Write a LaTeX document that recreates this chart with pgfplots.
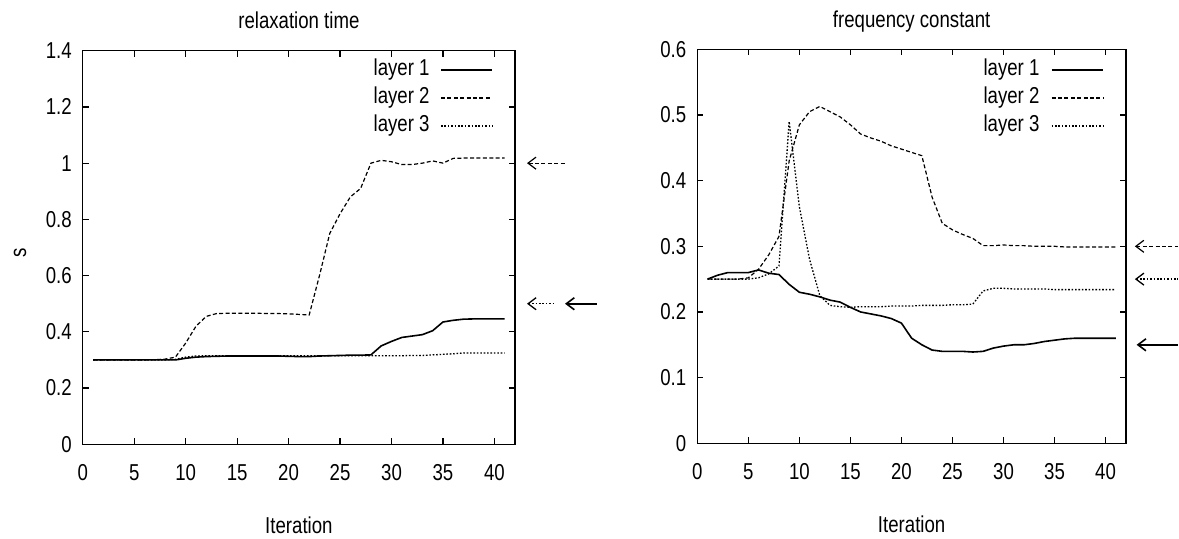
\documentclass[border=0pt]{standalone}
\usepackage{fontspec}
\setmainfont{Liberation Sans}[FakeStretch=0.81]
\usepackage{pgfplots}
\pgfplotsset{compat=1.18}
\usetikzlibrary{arrows.meta}
\tikzset{lt/.style={anchor=east, inner sep=0pt, font=\fontsize{11.5}{13}\selectfont}}
\begin{document}
\begin{tikzpicture}
\path[use as bounding box] (0,0) rectangle (589.5pt,269.5pt);
\pgfplotsset{
 gp/.style={
  scale only axis, anchor=south west,
  xmin=0, xmax=42, ymin=0,
  xtick={0,5,...,40},
  tick align=inside, major tick length=3pt,
  axis line style={line width=0.7pt},
  every tick/.style={line width=0.6pt, black},
  clip=false,
  font=\fontsize{11.5}{13}\selectfont,
  /pgf/number format/assume math mode=true,
  xticklabel style={yshift=-6.5pt},
  yticklabel style={xshift=-2pt},
  title style={at={(0.5,1)}, anchor=base, yshift=5pt},
  xlabel style={at={(axis description cs:0.5,0)}, anchor=base, yshift=-44.5pt},
 },
 l1/.style={black, line width=0.8pt},
 l2/.style={black, line width=0.6pt, dash pattern=on 2pt off 1.2pt},
 l3/.style={black, line width=0.65pt, dash pattern=on 0.8pt off 0.9pt},
 arr/.style={arrows={Straight Barb[length=4pt,width=6pt]-}},
}
% ---------------- left ----------------
\begin{axis}[gp, at={(41.4pt,47.35pt)}, width=216.1pt, height=196.8pt,
  ymax=1.4, ytick={0,0.2,0.4,0.6,0.8,1,1.2,1.4},
  yticklabels={0,0.2,0.4,0.6,0.8,1,1.2,1.4},
  title={relaxation time}, xlabel={Iteration}, ylabel={s},
  ylabel style={at={([xshift=-31.4pt]axis description cs:0,0.486)}, anchor=center}]
\addplot[l1] coordinates {(1,0.30)(2,0.30)(3,0.30)(4,0.30)(5,0.30)(6,0.30)(7,0.30)(8,0.30)(9,0.30)(10,0.306)(11,0.31)(12,0.312)(13,0.313)(14,0.314)(15,0.314)(16,0.314)(17,0.314)(18,0.314)(19,0.314)(20,0.313)(21,0.312)(22,0.312)(23,0.314)(24,0.315)(25,0.316)(26,0.317)(27,0.317)(28,0.318)(29,0.35)(30,0.366)(31,0.38)(32,0.385)(33,0.39)(34,0.404)(35,0.435)(36,0.441)(37,0.445)(38,0.446)(39,0.446)(40,0.446)(41,0.446)};
\addplot[l2] coordinates {(1,0.30)(2,0.30)(3,0.30)(4,0.30)(5,0.30)(6,0.30)(7,0.301)(8,0.303)(9,0.31)(10,0.36)(11,0.42)(12,0.455)(13,0.465)(14,0.466)(15,0.466)(16,0.466)(17,0.466)(18,0.465)(19,0.465)(20,0.464)(21,0.462)(22,0.46)(23,0.6)(24,0.75)(25,0.82)(26,0.88)(27,0.91)(28,1.0)(29,1.01)(30,1.005)(31,0.995)(32,0.995)(33,1.0)(34,1.008)(35,1.0)(36,1.017)(37,1.018)(38,1.018)(39,1.018)(40,1.018)(41,1.018)};
\addplot[l3] coordinates {(1,0.30)(2,0.30)(3,0.30)(4,0.30)(5,0.30)(6,0.30)(7,0.30)(8,0.30)(9,0.302)(10,0.31)(11,0.314)(12,0.315)(13,0.315)(14,0.315)(15,0.315)(16,0.315)(17,0.315)(18,0.315)(19,0.315)(20,0.315)(21,0.315)(22,0.315)(23,0.315)(24,0.315)(25,0.315)(26,0.315)(27,0.315)(28,0.315)(29,0.315)(30,0.315)(31,0.315)(32,0.316)(33,0.316)(34,0.318)(35,0.32)(36,0.322)(37,0.325)(38,0.325)(39,0.325)(40,0.325)(41,0.325)};
% legend (gnuplot style: text right-aligned, sample to the right)
\addplot[l1] coordinates {(34.81,1.3316)(39.77,1.3316)};
\addplot[l2] coordinates {(34.81,1.232)(39.77,1.232)};
\addplot[l3] coordinates {(34.81,1.1324)(39.77,1.1324)};
\node[lt] at (axis cs:33.74,1.3316) {layer 1};
\node[lt] at (axis cs:33.74,1.232) {layer 2};
\node[lt] at (axis cs:33.74,1.1324) {layer 3};
% target arrows
\addplot[l2, arr] coordinates {(43.17,1.0)(47.05,1.0)};
\addplot[l3, arr] coordinates {(43.17,0.5)(45.9,0.5)};
\addplot[l1, arr] coordinates {(46.86,0.5)(49.97,0.5)};
\end{axis}
% ---------------- right ----------------
\begin{axis}[gp, at={(348.65pt,47.85pt)}, width=214.35pt, height=197pt,
  ymax=0.6, ytick={0,0.1,0.2,0.3,0.4,0.5,0.6},
  yticklabels={0,0.1,0.2,0.3,0.4,0.5,0.6},
  title={frequency constant}, xlabel={Iteration}]
\addplot[l1] coordinates {(1,0.25)(2,0.256)(3,0.26)(4,0.26)(5,0.26)(6,0.264)(7,0.259)(8,0.257)(9,0.242)(10,0.23)(11,0.227)(12,0.223)(13,0.218)(14,0.215)(15,0.207)(16,0.2)(17,0.197)(18,0.194)(19,0.19)(20,0.183)(21,0.16)(22,0.15)(23,0.142)(24,0.14)(25,0.14)(26,0.14)(27,0.139)(28,0.14)(29,0.145)(30,0.148)(31,0.15)(32,0.15)(33,0.152)(34,0.155)(35,0.157)(36,0.159)(37,0.16)(38,0.16)(39,0.16)(40,0.16)(41,0.16)};
\addplot[l2] coordinates {(1,0.25)(2,0.25)(3,0.25)(4,0.25)(5,0.252)(6,0.265)(7,0.287)(8,0.315)(9,0.43)(10,0.485)(11,0.505)(12,0.513)(13,0.505)(14,0.497)(15,0.485)(16,0.471)(17,0.465)(18,0.46)(19,0.453)(20,0.448)(21,0.443)(22,0.438)(23,0.375)(24,0.335)(25,0.325)(26,0.318)(27,0.312)(28,0.301)(29,0.301)(30,0.302)(31,0.301)(32,0.301)(33,0.3)(34,0.3)(35,0.3)(36,0.299)(37,0.299)(38,0.299)(39,0.299)(40,0.299)(41,0.299)};
\addplot[l3] coordinates {(1,0.25)(2,0.25)(3,0.25)(4,0.25)(5,0.25)(6,0.252)(7,0.258)(8,0.27)(9,0.49)(10,0.36)(11,0.28)(12,0.225)(13,0.21)(14,0.208)(15,0.207)(16,0.208)(17,0.208)(18,0.208)(19,0.209)(20,0.209)(21,0.209)(22,0.21)(23,0.21)(24,0.21)(25,0.211)(26,0.211)(27,0.212)(28,0.232)(29,0.236)(30,0.236)(31,0.235)(32,0.235)(33,0.235)(34,0.235)(35,0.234)(36,0.234)(37,0.234)(38,0.234)(39,0.234)(40,0.234)(41,0.234)};
% legend
\addplot[l1] coordinates {(34.71,0.5684)(39.76,0.5684)};
\addplot[l2] coordinates {(34.71,0.5258)(39.76,0.5258)};
\addplot[l3] coordinates {(34.71,0.4832)(39.76,0.4832)};
\node[lt] at (axis cs:33.56,0.5684) {layer 1};
\node[lt] at (axis cs:33.56,0.5258) {layer 2};
\node[lt] at (axis cs:33.56,0.4832) {layer 3};
% target arrows
\addplot[l2, arr] coordinates {(42.87,0.3)(47.08,0.3)};
\addplot[l3, arr] coordinates {(42.87,0.25)(47.08,0.25)};
\addplot[l1, arr] coordinates {(43.04,0.15)(47.08,0.15)};
\end{axis}
\end{tikzpicture}
\end{document}
